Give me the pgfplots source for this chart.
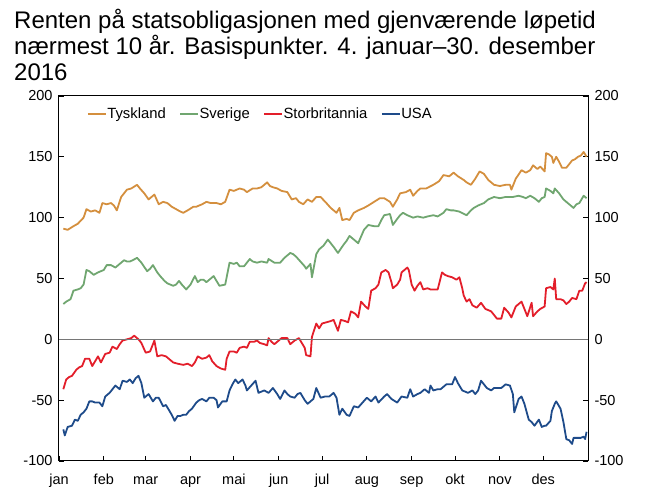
\documentclass[border=0pt]{standalone}
\usepackage{pgfplots}
\pgfplotsset{compat=1.18}
\usepackage{fontspec}
\setmainfont{Liberation Sans}
\definecolor{cDE}{RGB}{212,143,62}
\definecolor{cSE}{RGB}{112,166,112}
\definecolor{cUK}{RGB}{227,30,42}
\definecolor{cUS}{RGB}{30,75,138}
\definecolor{zeroc}{RGB}{118,118,118}
\begin{document}
\begin{tikzpicture}
\path[use as bounding box] (-59pt,-26pt) rectangle (587pt,461pt);
\node[anchor=base west, inner sep=0pt, font=\fontsize{24}{26}\selectfont] at (-45pt,432.5pt) {Renten på statsobligasjonen med gjenværende løpetid};
\node[anchor=base west, inner sep=0pt, font=\fontsize{24}{26}\selectfont] at (-45pt,406.5pt) {nærmest 10 år. Basispunkter. 4. januar–30. desember};
\node[anchor=base west, inner sep=0pt, font=\fontsize{24}{26}\selectfont] at (-45pt,380.5pt) {2016};
\begin{axis}[
  at={(0pt,0pt)}, anchor=south west,
  scale only axis, width=529pt, height=365pt,
  xmin=0, xmax=366, ymin=-100, ymax=200,
  xtick={0,31,60,91,121,152,182,213,244,274,305,335},
  xticklabels={jan,feb,mar,apr,mai,jun,jul,aug,sep,okt,nov,des},
  ytick={-100,-50,0,50,100,150,200},
  yticklabels={-100,-50,0,50,100,150,200},
  xtick pos=left, ytick pos=both, yticklabel pos=left,
  tick align=inside, major tick length=5pt,
  tick style={black, line width=0.8pt},
  axis line style={black, line width=1pt},
  ticklabel style={font=\fontsize{14.5}{16}\selectfont},
  xticklabel style={anchor=base, yshift=-24pt},
  yticklabel style={xshift=-3pt},
  legend style={draw=none, fill=none, at={(0.047,0.95)}, anchor=west,
    font=\fontsize{14.8}{17}\selectfont, legend columns=4,
    /tikz/every even column/.append style={column sep=13pt},
    /tikz/every odd column/.append style={column sep=0pt},
    nodes={inner sep=0.5pt}},
  legend image code/.code={\draw[#1] (0pt,0pt) -- (18pt,0pt);},
  every axis plot/.append style={line width=1.8pt, line join=round},
]
\addplot[cDE] coordinates {(3,91) (6,90) (10,93) (13,95) (17,100) (19,107) (22,105) (25,106) (28,104) (30,112) (33,111) (36,112) (38,110) (40,106) (43,117) (47,123) (50,124) (54,127) (56,124) (59,120) (62,115) (64,117) (66,119) (69,111) (72,113) (75,112) (78,109) (81,107) (84,105) (86,104) (89,106) (93,109) (95,109) (99,111) (102,113) (105,112) (109,112) (112,111) (115,113) (118,123) (121,122) (125,124) (128,123) (130,121) (134,124) (137,124) (140,125) (144,129) (146,126) (148,125) (151,124) (154,122) (158,121) (161,115) (164,116) (166,113) (169,111) (172,115) (175,113) (178,117) (181,117) (185,112) (188,108) (190,106) (192,104) (194,108) (196,98) (199,99) (201,98) (204,104) (207,106) (211,108) (214,110) (218,113) (222,116) (225,116) (229,113) (231,109) (234,115) (236,120) (240,121) (243,123) (245,118) (248,122) (250,124) (254,124) (259,127) (263,130) (266,135) (270,134) (273,137) (276,134) (280,131) (282,129) (285,127) (288,132) (291,138) (294,136) (297,131) (301,127) (305,126) (309,127) (312,127) (313,123) (316,132) (320,139) (323,137) (326,139) (328,143) (331,140) (333,142) (336,138) (337,153) (339,152) (341,150) (342,145) (344,150) (346,146) (348,141) (351,141) (353,144) (355,147) (357,148) (359,150) (361,151) (363,154) (365,150)};
\addlegendentry{Tyskland}
\addplot[cSE] coordinates {(3,29) (5,31) (8,33) (10,40) (13,41) (15,42) (17,45) (19,57) (21,56) (24,53) (27,55) (31,57) (33,61) (36,61) (39,59) (42,62) (45,65) (47,64) (49,64) (51,65) (54,67) (57,63) (61,56) (63,58) (65,61) (68,55) (70,52) (73,48) (75,46) (79,44) (81,45) (83,48) (85,45) (88,41) (91,45) (94,52) (96,47) (98,49) (100,49) (102,47) (105,50) (107,52) (109,48) (111,44) (115,45) (118,63) (121,62) (123,63) (125,60) (128,60) (132,66) (134,64) (137,63) (140,64) (144,63) (145,66) (149,63) (153,63) (156,67) (160,71) (162,70) (164,68) (167,64) (170,60) (171,58) (174,62) (175,51) (178,70) (180,74) (183,77) (186,82) (188,79) (190,76) (193,71) (197,78) (199,81) (201,85) (204,82) (207,79) (211,90) (214,94) (218,93) (221,93) (223,98) (225,102) (229,103) (231,94) (234,99) (236,102) (238,104) (241,102) (245,100) (248,101) (252,100) (255,101) (259,102) (262,101) (266,104) (268,107) (271,106) (273,106) (277,105) (282,102) (285,106) (287,108) (290,110) (294,112) (297,115) (301,117) (305,116) (309,117) (314,117) (318,118) (321,117) (323,116) (326,118) (329,116) (332,113) (334,116) (336,117) (337,124) (340,122) (342,120) (343,124) (346,120) (349,115) (352,112) (356,108) (358,111) (360,112) (363,118) (365,116)};
\addlegendentry{Sverige}
\addplot[cUK] coordinates {(3,-41) (5,-33) (7,-31) (9,-30) (12,-25) (14,-23) (16,-22) (18,-16) (21,-16) (23,-22) (25,-18) (27,-14) (29,-19) (32,-12) (35,-11) (37,-6) (40,-8) (42,-4) (44,-1) (47,0) (50,1) (52,3) (55,0) (57,-3) (60,-11) (63,-10) (66,-1) (68,-14) (71,-13) (74,-14) (77,-17) (79,-19) (82,-20) (86,-21) (89,-20) (92,-22) (94,-19) (96,-14) (99,-16) (102,-15) (104,-13) (106,-18) (109,-22) (112,-24) (115,-25) (116,-16) (118,-10) (121,-10) (123,-11) (125,-7) (128,-6) (130,-7) (132,-2) (135,-2) (137,-1) (139,-3) (142,-4) (144,-5) (145,1) (147,-2) (149,-4) (152,-1) (154,1) (158,1) (160,-4) (163,-1) (166,1) (168,-3) (170,-7) (171,-13) (174,-14) (175,2) (178,13) (180,9) (182,13) (185,14) (188,15) (190,16) (192,10) (193,7) (195,16) (198,15) (200,14) (202,23) (205,21) (207,18) (209,31) (212,27) (214,25) (216,40) (219,42) (221,45) (223,55) (226,57) (228,55) (230,47) (231,42) (234,45) (236,49) (237,55) (239,57) (241,59) (242,57) (244,45) (246,40) (248,44) (250,47) (252,41) (255,42) (257,41) (259,41) (262,41) (265,55) (267,53) (269,52) (272,51) (275,49) (277,51) (279,42) (280,36) (282,31) (284,33) (286,28) (289,26) (292,30) (295,25) (299,23) (301,20) (303,17) (306,17) (308,26) (311,22) (313,18) (316,27) (318,29) (320,31) (322,25) (324,19) (327,30) (328,19) (331,23) (333,25) (336,27) (337,42) (340,43) (342,41) (343,50) (344,33) (347,33) (349,32) (351,29) (353,31) (355,34) (358,33) (360,40) (362,40) (364,46) (365,47)};
\addlegendentry{Storbritannia}
\addplot[cUS] coordinates {(3,-74) (4,-79) (6,-72) (9,-71) (11,-66) (13,-67) (15,-62) (17,-60) (19,-57) (21,-51) (23,-51) (25,-52) (28,-52) (30,-55) (32,-47) (35,-44) (37,-41) (39,-38) (42,-41) (44,-34) (47,-35) (49,-33) (51,-36) (53,-32) (55,-30) (57,-36) (59,-48) (62,-45) (65,-51) (67,-48) (69,-48) (72,-55) (74,-54) (76,-58) (78,-62) (80,-67) (82,-63) (84,-63) (86,-62) (88,-62) (90,-59) (92,-57) (95,-52) (97,-50) (99,-49) (102,-51) (104,-48) (107,-48) (109,-50) (110,-56) (113,-51) (116,-51) (118,-42) (120,-37) (122,-33) (124,-36) (127,-33) (129,-38) (130,-42) (133,-38) (136,-34) (138,-44) (140,-43) (142,-42) (145,-44) (148,-40) (151,-45) (153,-49) (156,-42) (158,-45) (160,-47) (163,-48) (165,-45) (167,-44) (170,-50) (172,-53) (176,-49) (178,-40) (181,-48) (184,-47) (187,-47) (190,-44) (192,-48) (194,-62) (196,-57) (199,-62) (201,-63) (204,-55) (207,-56) (210,-52) (213,-48) (216,-51) (219,-47) (221,-52) (225,-47) (227,-45) (230,-49) (234,-52) (237,-47) (241,-48) (243,-41) (245,-47) (248,-45) (250,-44) (253,-41) (256,-44) (257,-38) (259,-42) (262,-41) (264,-41) (268,-37) (272,-37) (274,-31) (276,-36) (279,-42) (281,-43) (283,-44) (286,-42) (288,-45) (290,-42) (292,-34) (294,-37) (296,-40) (299,-42) (301,-40) (303,-40) (306,-40) (309,-37) (312,-38) (314,-45) (315,-60) (318,-49) (320,-47) (322,-53) (325,-66) (327,-68) (329,-71) (332,-66) (334,-72) (336,-71) (337,-71) (340,-67) (341,-59) (343,-53) (344,-51) (347,-57) (349,-68) (351,-82) (353,-83) (355,-86) (356,-81) (359,-81) (361,-81) (363,-80) (364,-82) (365,-76)};
\addlegendentry{USA}
\addplot[zeroc, line width=1.5pt, forget plot] coordinates {(0,0) (366,0)};
\end{axis}
\begin{axis}[
  at={(0pt,0pt)}, anchor=south west,
  scale only axis, width=529pt, height=365pt,
  xmin=0, xmax=366, ymin=-100, ymax=200,
  xtick=\empty,
  ytick={-100,-50,0,50,100,150,200},
  yticklabels={-100,-50,0,50,100,150,200},
  yticklabel pos=right, ytick style={draw=none},
  axis line style={draw=none},
  ticklabel style={font=\fontsize{14.5}{16}\selectfont},
  yticklabel style={xshift=3pt},
]
\addplot[draw=none] coordinates {(0,0)};
\end{axis}
\end{tikzpicture}
\end{document}
